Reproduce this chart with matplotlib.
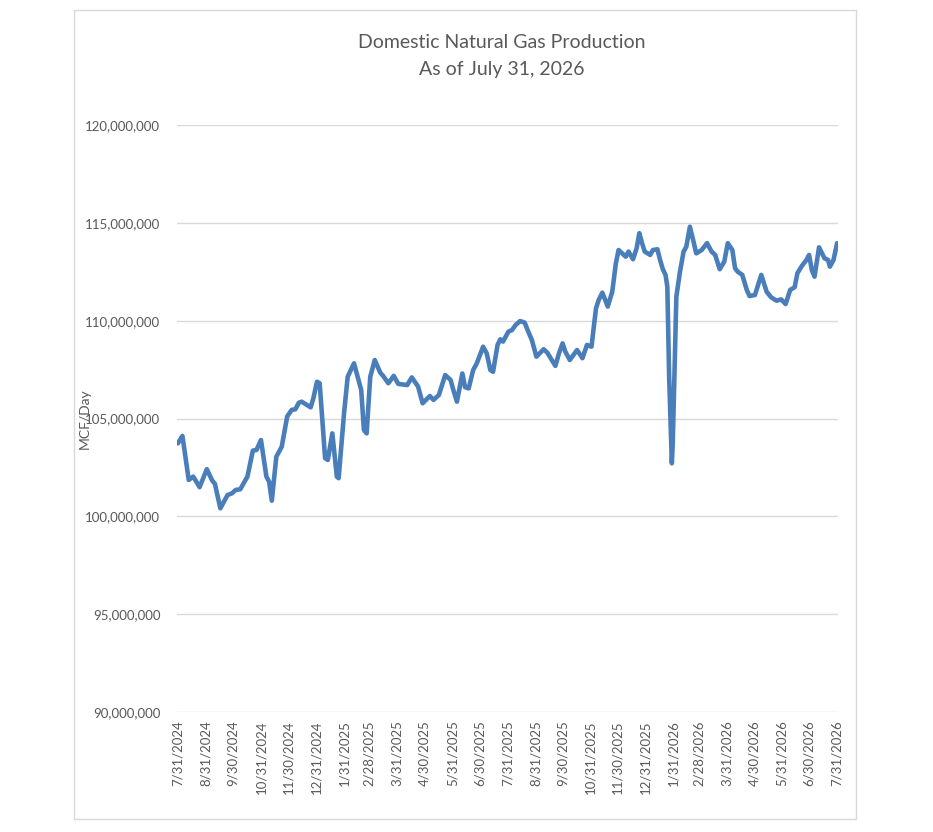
import matplotlib
matplotlib.use("Agg")
import matplotlib.pyplot as plt
from matplotlib.ticker import FuncFormatter, MultipleLocator
from matplotlib.patches import Rectangle
import numpy as np

plt.rcParams['font.family'] = ['Lato', 'DejaVu Sans']

# value in millions of MCF/day
dates = [
    "2024-07-31", "2024-08-05", "2024-08-12", "2024-08-17", "2024-08-24", "2024-09-01",
    "2024-09-07", "2024-09-10", "2024-09-16", "2024-09-24", "2024-09-29", "2024-10-03",
    "2024-10-08", "2024-10-16", "2024-10-22", "2024-10-26", "2024-10-31", "2024-11-06",
    "2024-11-09", "2024-11-12", "2024-11-17", "2024-11-23", "2024-11-29", "2024-12-04",
    "2024-12-08", "2024-12-12", "2024-12-15", "2024-12-21", "2024-12-25", "2024-12-28",
    "2025-01-01", "2025-01-04", "2025-01-10", "2025-01-13", "2025-01-18", "2025-01-23",
    "2025-01-25", "2025-01-31", "2025-02-04", "2025-02-11", "2025-02-19", "2025-02-22",
    "2025-02-25", "2025-03-01", "2025-03-06", "2025-03-12", "2025-03-16", "2025-03-21",
    "2025-03-27", "2025-04-01", "2025-04-11", "2025-04-16", "2025-04-23", "2025-04-28",
    "2025-05-06", "2025-05-10", "2025-05-16", "2025-05-23", "2025-05-29", "2025-06-01",
    "2025-06-05", "2025-06-11", "2025-06-14", "2025-06-18", "2025-06-23", "2025-06-27",
    "2025-07-04", "2025-07-08", "2025-07-12", "2025-07-15", "2025-07-20", "2025-07-23",
    "2025-07-26", "2025-08-01", "2025-08-05", "2025-08-09", "2025-08-14", "2025-08-19",
    "2025-08-23", "2025-08-27", "2025-09-01", "2025-09-09", "2025-09-13", "2025-09-19",
    "2025-09-22", "2025-09-26", "2025-09-30", "2025-10-03", "2025-10-08", "2025-10-16",
    "2025-10-22", "2025-10-27", "2025-11-01", "2025-11-06", "2025-11-09", "2025-11-13",
    "2025-11-17", "2025-11-19", "2025-11-24", "2025-11-28", "2025-12-01", "2025-12-05",
    "2025-12-09", "2025-12-12", "2025-12-17", "2025-12-21", "2025-12-24", "2025-12-27",
    "2025-12-30", "2026-01-05", "2026-01-08", "2026-01-13", "2026-01-16", "2026-01-19",
    "2026-01-22", "2026-01-24", "2026-01-26", "2026-01-29", "2026-01-30", "2026-02-03",
    "2026-02-07", "2026-02-11", "2026-02-14", "2026-02-18", "2026-02-22", "2026-02-25",
    "2026-03-03", "2026-03-09", "2026-03-14", "2026-03-18", "2026-03-23", "2026-03-28",
    "2026-04-01", "2026-04-06", "2026-04-09", "2026-04-12", "2026-04-17", "2026-04-22",
    "2026-04-25", "2026-05-01", "2026-05-08", "2026-05-14", "2026-05-19", "2026-05-25",
    "2026-05-30", "2026-06-04", "2026-06-09", "2026-06-14", "2026-06-17", "2026-06-22",
    "2026-06-27", "2026-06-30", "2026-07-03", "2026-07-06", "2026-07-11", "2026-07-17",
    "2026-07-21", "2026-07-23", "2026-07-27", "2026-07-31",
]
production_m = [
    103.73, 104.11, 101.86, 102.03, 101.49, 102.41,
    101.83, 101.66, 100.41, 101.09, 101.18, 101.35,
    101.38, 102.03, 103.36, 103.39, 103.90, 102.03,
    101.77, 100.80, 103.05, 103.56, 105.10, 105.44,
    105.47, 105.81, 105.86, 105.69, 105.57, 106.03,
    106.88, 106.80, 102.97, 102.88, 104.24, 102.03,
    101.95, 105.27, 107.13, 107.82, 106.46, 104.41,
    104.24, 107.13, 107.99, 107.35, 107.13, 106.80,
    107.18, 106.77, 106.71, 107.10, 106.63, 105.78,
    106.15, 105.95, 106.20, 107.22, 106.97, 106.46,
    105.86, 107.30, 106.60, 106.54, 107.48, 107.82,
    108.67, 108.33, 107.48, 107.39, 108.76, 109.05,
    108.93, 109.44, 109.52, 109.78, 109.98, 109.90,
    109.44, 109.01, 108.16, 108.54, 108.37, 107.91,
    107.69, 108.33, 108.84, 108.42, 107.99, 108.50,
    108.08, 108.76, 108.67, 110.63, 111.06, 111.43,
    110.97, 110.72, 111.48, 112.93, 113.61, 113.44,
    113.27, 113.53, 113.14, 113.70, 114.47, 113.96,
    113.53, 113.36, 113.61, 113.65, 113.10, 112.63,
    112.34, 111.74, 107.13, 102.71, 103.73, 111.23,
    112.50, 113.53, 113.78, 114.80, 114.04, 113.44,
    113.61, 113.96, 113.53, 113.36, 112.63, 113.01,
    113.96, 113.61, 112.68, 112.50, 112.34, 111.57,
    111.26, 111.31, 112.34, 111.48, 111.19, 111.02,
    111.09, 110.85, 111.57, 111.71, 112.42, 112.80,
    113.10, 113.36, 112.59, 112.25, 113.75, 113.19,
    113.10, 112.76, 113.10, 113.96,
]
tick_dates = [
    "2024-07-31", "2024-08-31", "2024-09-30", "2024-10-31", "2024-11-30", "2024-12-31",
    "2025-01-31", "2025-02-28", "2025-03-31", "2025-04-30", "2025-05-31", "2025-06-30",
    "2025-07-31", "2025-08-31", "2025-09-30", "2025-10-31", "2025-11-30", "2025-12-31",
    "2026-01-31", "2026-02-28", "2026-03-31", "2026-04-30", "2026-05-31", "2026-06-30",
    "2026-07-31",
]

x = np.array(dates, dtype="datetime64[D]")
y = np.array(production_m) * 1e6
ticks = np.array(tick_dates, dtype="datetime64[D]")
tick_labels = [f"{d.month}/{d.day}/{d.year}" for d in ticks.astype(object)]

text_gray = "#595959"
grid_gray = "#d9d9d9"

fig = plt.figure(figsize=(9.33, 8.32), dpi=100)
fig.patches.append(Rectangle((74 / 933, 1 - 819 / 832), (856 - 74) / 933, (819 - 10) / 832,
                             transform=fig.transFigure, fill=False,
                             edgecolor=grid_gray, linewidth=1))

ax = fig.add_axes([177 / 933, 1 - 712 / 832, (838 - 177) / 933, (712 - 125) / 832])
ax.plot(x, y, color="#4a7ebb", linewidth=3.3, solid_joinstyle="round",
        solid_capstyle="round", zorder=3)

ax.set_ylim(90e6, 120e6)
ax.yaxis.set_major_locator(MultipleLocator(5e6))
ax.yaxis.set_major_formatter(FuncFormatter(lambda v, p: f"{v:,.0f}"))
ax.set_xlim(ticks[0] - np.timedelta64(1, "D"), ticks[-1] + np.timedelta64(1, "D"))
ax.set_xticks(ticks)
ax.set_xticklabels(tick_labels, rotation=90)

ax.grid(axis="y", color=grid_gray, linewidth=1)
ax.set_axisbelow(True)
for s in ax.spines.values():
    s.set_visible(False)
ax.tick_params(length=0, colors=text_gray, labelsize=9.5)
ax.tick_params(axis="x", pad=6)
ax.tick_params(axis="y", pad=12)

ax.set_ylabel("MCF/Day", color=text_gray, fontsize=10, labelpad=-4)
fig.text(502 / 933, 1 - 43 / 832, "Domestic Natural Gas Production", ha="center", va="center",
         fontsize=14, color=text_gray)
fig.text(502 / 933, 1 - 70 / 832, "As of July 31, 2026", ha="center", va="center",
         fontsize=14, color=text_gray)

fig.savefig("out.png", dpi=100)
